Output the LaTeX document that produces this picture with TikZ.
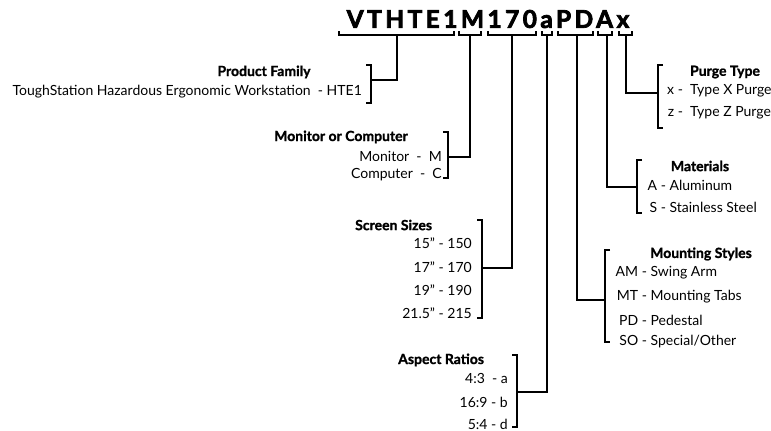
\documentclass[tikz,border=0pt]{standalone}
\usepackage{fontspec}
\setmainfont{Lato}[BoldFeatures={FakeBold=1.2}]
\newfontfamily\titlefont{Lato}[LetterSpace=14,BoldFeatures={FakeBold=3}]
\begin{document}
\begin{tikzpicture}[x=1pt,y=-1pt,
  ln/.style={line width=1.3pt,black},
  txt/.style={inner sep=0pt,font=\fontsize{14}{16}\selectfont},
  head/.style={inner sep=0pt,font=\fontsize{14}{16}\selectfont\bfseries},
  ttl/.style={inner sep=0pt,font=\fontsize{24.5}{26}\selectfont\titlefont\bfseries}]
\useasboundingbox (0,0) rectangle (771,431);
% title
\node[ttl] (title) at (488,19) {VTHTE1M170aPDAx};
% title brackets
\draw[ln] (339,31) -- (339,35) -- (454,35) -- (454,31);
\draw[ln] (459,31) -- (459,35) -- (481,35) -- (481,31);
\draw[ln] (488,31) -- (488,35) -- (536,35) -- (536,31);
\draw[ln] (542,31) -- (542,35) -- (552,35) -- (552,31);
\draw[ln] (558,31) -- (558,35) -- (593,35) -- (593,31);
\draw[ln] (598,31) -- (598,35) -- (612,35) -- (612,31);
\draw[ln] (619,31) -- (619,35) -- (632,35) -- (632,31);
\coordinate (sPF) at (397,35);
\coordinate (sMC) at (470,35);
\coordinate (sSS) at (512,35);
\coordinate (sAR) at (547,35);
\coordinate (sMS) at (577,35);
\coordinate (sMA) at (607,35);
\coordinate (sPT) at (626,35);
% Product family
\node[head] (pfh) at (264,72) {Product Family};
\node[txt,anchor=east] (pf1) at (362,92) {ToughStation Hazardous Ergonomic Workstation\ \ - HTE1};
\draw[ln] (366,65) -- (371,65) -- (371,103) -- (366,103);
\coordinate (bPF) at (371,80);
\draw[ln] (bPF) -| (sPF);
% Monitor or computer
\node[head,anchor=east] (mch) at (408,137) {Monitor or Computer};
\node[txt,anchor=east] (mc1) at (442,156) {Monitor\ \ -\ \ M};
\node[txt,anchor=east] (mc2) at (442,175) {Computer\ \ -\ \ C};
\draw[ln] (443,132) -- (448,132) -- (448,178) -- (443,178);
\coordinate (bMC) at (448,157);
\draw[ln] (bMC) -| (sMC);
% Screen sizes
\node[head,anchor=west] (ssh) at (355,225) {Screen Sizes};
\node[txt,anchor=east] (ss1) at (472,243) {15” - 150};
\node[txt,anchor=east] (ss2) at (472,267) {17” - 170};
\node[txt,anchor=east] (ss3) at (472,290) {19” - 190};
\node[txt,anchor=east] (ss4) at (472,313) {21.5” - 215};
\draw[ln] (477,220) -- (482,220) -- (482,318) -- (477,318);
\coordinate (bSS) at (482,268);
\draw[ln] (bSS) -| (sSS);
% Aspect ratios
\node[head,anchor=west] (arh) at (398,360) {Aspect Ratios};
\node[txt,anchor=east] (ar1) at (508,378) {4:3\ \ - a};
\node[txt,anchor=east] (ar2) at (508,402) {16:9 - b};
\node[txt,anchor=east] (ar3) at (508,424) {5:4 - d};
\draw[ln] (512,355) -- (517,355) -- (517,427) -- (512,427);
\coordinate (bAR) at (517,392);
\draw[ln] (bAR) -| (sAR);
% Purge type
\node[head] (pth) at (725,72) {Purge Type};
\node[txt,anchor=west] (pt1) at (667,91) {\makebox[7pt][r]{x} -\ \ Type X Purge};
\node[txt,anchor=west] (pt2) at (667,113) {\makebox[7pt][r]{z} -\ \ Type Z Purge};
\draw[ln] (663,65) -- (658,65) -- (658,128) -- (663,128);
\coordinate (bPT) at (658,93);
\draw[ln] (bPT) -| (sPT);
% Materials
\node[head] (mah) at (700,166) {Materials};
\node[txt,anchor=west] (ma1) at (642,185) {\makebox[15pt][r]{A} - Aluminum};
\node[txt,anchor=west] (ma2) at (642,207) {\makebox[15pt][r]{S} - Stainless Steel};
\draw[ln] (642,160) -- (637,160) -- (637,213) -- (642,213);
\coordinate (bMA) at (637,187);
\draw[ln] (bMA) -| (sMA);
% Mounting styles
\node[head] (msh) at (701,254) {Mounting Styles};
\node[txt,anchor=west] (ms1) at (613,273) {\makebox[25pt][r]{AM} - Swing Arm};
\node[txt,anchor=west] (ms2) at (613,297) {\makebox[25pt][r]{MT} - Mounting Tabs};
\node[txt,anchor=west] (ms3) at (613,320) {\makebox[25pt][r]{PD} - Pedestal};
\node[txt,anchor=west] (ms4) at (613,342) {\makebox[25pt][r]{SO} - Special/Other};
\draw[ln] (610,250) -- (605,250) -- (605,342) -- (610,342);
\coordinate (bMS) at (605,300);
\draw[ln] (bMS) -| (sMS);
\end{tikzpicture}
\end{document}
